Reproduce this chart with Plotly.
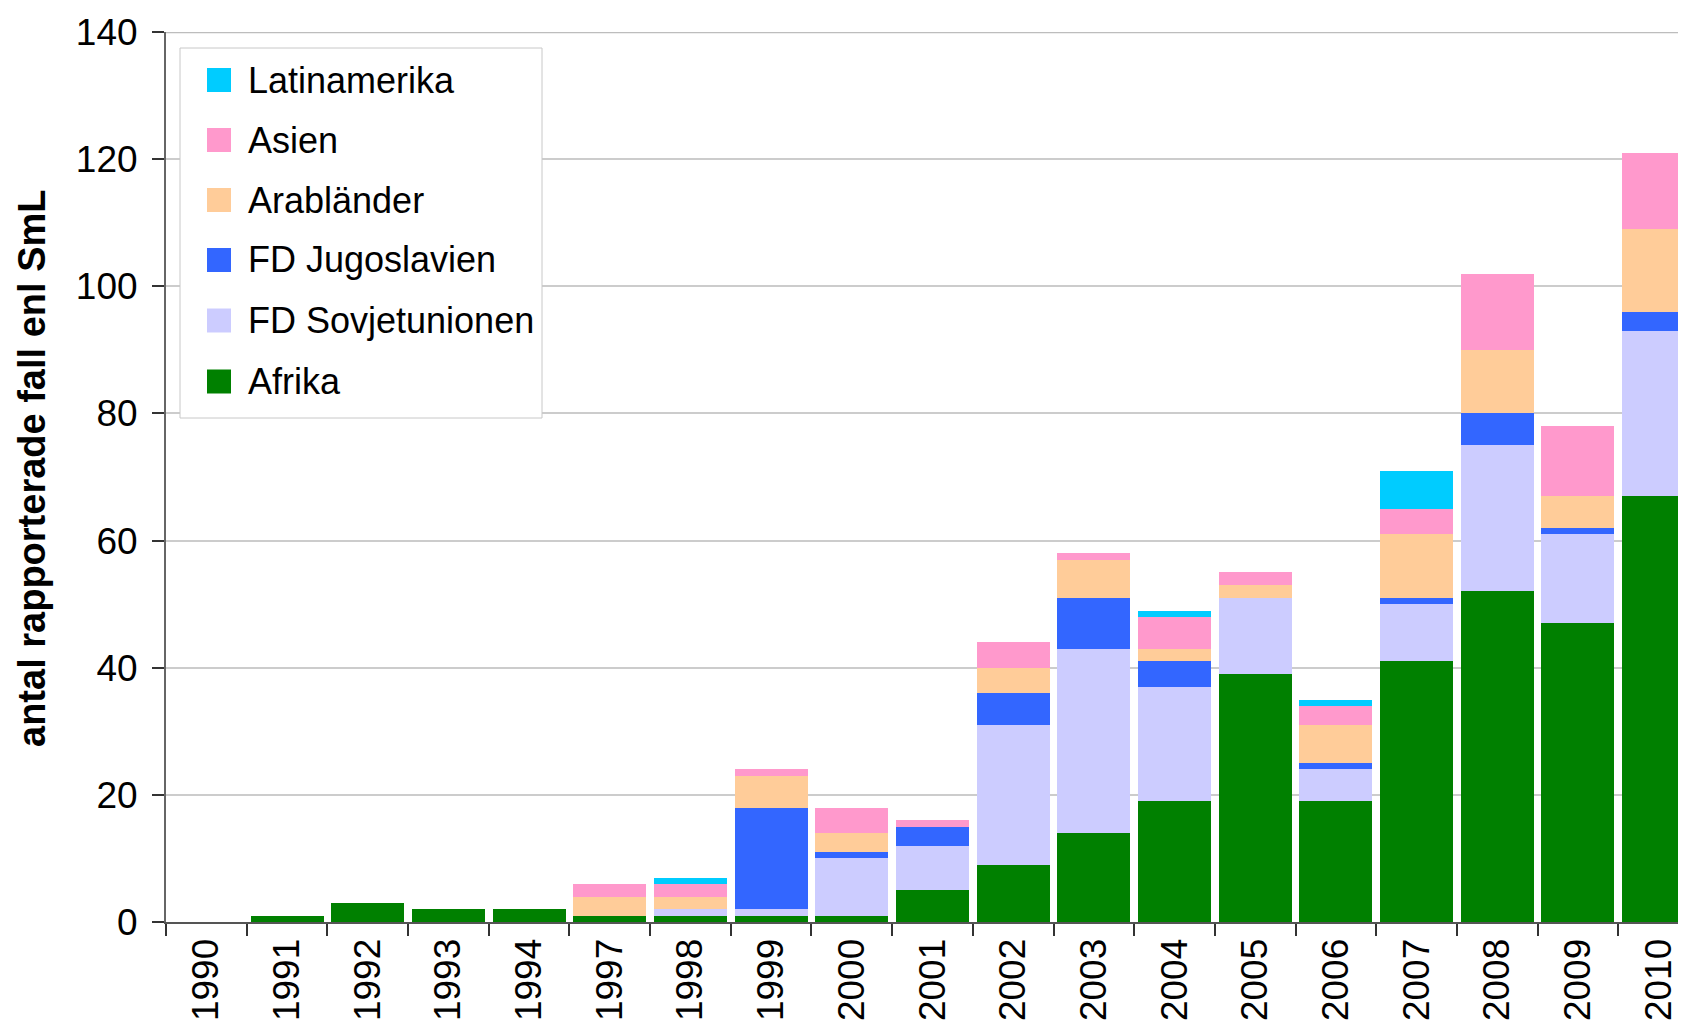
import plotly.graph_objects as go

years = ["1990", "1991", "1992", "1993", "1994", "1997", "1998", "1999", "2000", "2001",
         "2002", "2003", "2004", "2005", "2006", "2007", "2008", "2009", "2010"]
afrika = [0, 1, 3, 2, 2, 1, 1, 1, 1, 5, 9, 14, 19, 39, 19, 41, 52, 47, 67]
sovjet = [0, 0, 0, 0, 0, 0, 1, 1, 9, 7, 22, 29, 18, 12, 5, 9, 23, 14, 26]
jugo = [0, 0, 0, 0, 0, 0, 0, 16, 1, 3, 5, 8, 4, 0, 1, 1, 5, 1, 3]
arab = [0, 0, 0, 0, 0, 3, 2, 5, 3, 0, 4, 6, 2, 2, 6, 10, 10, 5, 13]
asien = [0, 0, 0, 0, 0, 2, 2, 1, 4, 1, 4, 1, 5, 2, 3, 4, 12, 11, 12]
latin = [0, 0, 0, 0, 0, 0, 1, 0, 0, 0, 0, 0, 1, 0, 1, 6, 0, 0, 0]

series_names = ["Afrika", "FD Sovjetunionen", "FD Jugoslavien", "Arabländer", "Asien", "Latinamerika"]
series_values = [afrika, sovjet, jugo, arab, asien, latin]
series_colors = ["#008000", "#CCCCFF", "#3366FF", "#FFCC99", "#FF99CC", "#00CCFF"]

# page body has an 8px margin; figure sized to fit the window without scrollbars
OFF = 8
W, H = 1670, 1017
L, R, T, B = 158, 0, 24, 103
FONT = "Liberation Sans, Arial, sans-serif"

fig = go.Figure()
for name, vals, col in zip(series_names, series_values, series_colors):
    fig.add_trace(go.Bar(x=years, y=vals, name=name, marker=dict(color=col, line=dict(width=0)),
                         showlegend=False))

pw = W - L - R
ph = H - T - B

def px2paper(sx, sy):
    # screen pixel -> paper coordinates
    x = sx - OFF
    y = sy - OFF
    return (x - L) / pw, (H - B - y) / ph

shapes = []
annotations = []

# top gridline (darker, as in the original)
shapes.append(dict(type="line", xref="paper", yref="y", x0=0, x1=1, y0=140, y1=140,
                   line=dict(color="#bdbdbd", width=2.5), layer="below"))

# manual legend with large square swatches
bx0, by_top = px2paper(180, 48)
bx1, by_bot = px2paper(542, 418)
shapes.append(dict(type="rect", xref="paper", yref="paper", x0=bx0, y0=by_bot, x1=bx1, y1=by_top,
                   line=dict(color="#c8c8c8", width=1), fillcolor="white", layer="above"))
item_y = [80, 140, 200, 260, 320.5, 381.5]
sq = 24
for i, (name, col) in enumerate(zip(series_names[::-1], series_colors[::-1])):
    cy = item_y[i]
    x0, y0 = px2paper(219 - sq / 2, cy + sq / 2)
    x1, y1 = px2paper(219 + sq / 2, cy - sq / 2)
    shapes.append(dict(type="rect", xref="paper", yref="paper", x0=x0, y0=y0, x1=x1, y1=y1,
                       line=dict(width=0), fillcolor=col, layer="above"))
    tx, ty = px2paper(246, cy)
    annotations.append(dict(xref="paper", yref="paper", x=tx, y=ty, text=name, showarrow=False,
                            xanchor="left", yanchor="middle",
                            font=dict(family=FONT, size=36, color="black")))

tx, ty = px2paper(32, 469)
annotations.append(dict(xref="paper", yref="paper", x=tx, y=ty, text="<b>antal rapporterade fall enl SmL</b>",
                        textangle=-90, showarrow=False, xanchor="center", yanchor="middle",
                        font=dict(family=FONT, size=38, color="black")))

fig.update_layout(
    template="none",
    width=W, height=H,
    margin=dict(l=L, r=R, t=T, b=B, pad=0),
    barmode="stack",
    bargap=0.095,
    paper_bgcolor="white",
    plot_bgcolor="white",
    font=dict(family=FONT, color="black"),
    shapes=shapes,
    annotations=annotations,
    xaxis=dict(
        type="category",
        range=[-0.5, 18.24],
        tickangle=-90,
        tickson="boundaries",
        ticks="outside",
        ticklen=12,
        tickwidth=1.5,
        tickcolor="#333333",
        showline=True,
        linecolor="#555555",
        linewidth=2,
        showgrid=False,
        automargin=False,
        ticklabelstandoff=0,
        ticklabeloverflow="allow",
        tickfont=dict(family=FONT, size=37, color="black"),
    ),
    yaxis=dict(
        range=[0, 140],
        dtick=20,
        tick0=0,
        ticks="outside",
        ticklen=12,
        tickwidth=1.5,
        tickcolor="#333333",
        showline=True,
        linecolor="#666666",
        linewidth=2,
        showgrid=True,
        gridcolor="#cccccc",
        gridwidth=1.5,
        zeroline=False,
        automargin=False,
        ticklabelstandoff=7,
        ticklabeloverflow="allow",
        tickfont=dict(family=FONT, size=37, color="black"),
    ),
)

fig.write_html("out.html")
